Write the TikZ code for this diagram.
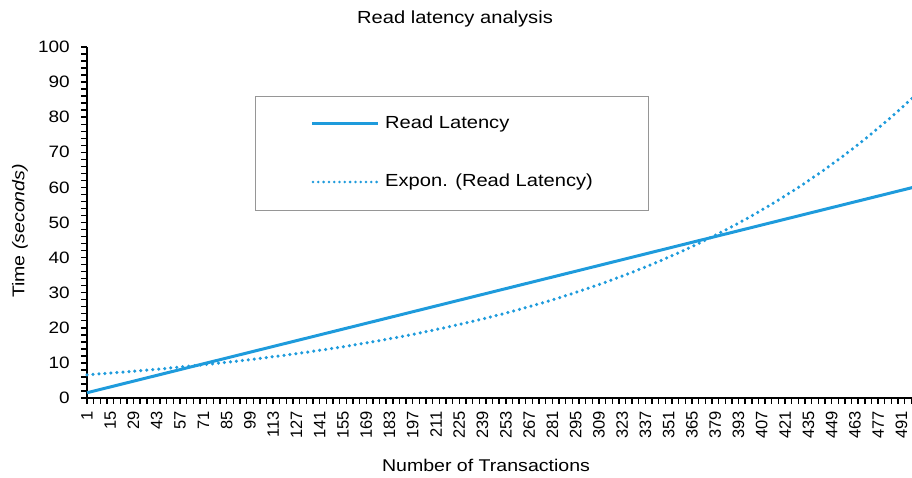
\documentclass[tikz,border=0pt]{standalone}
\usepackage{fontspec}
\setmainfont{Liberation Sans}
\newfontfamily\chartfont[FakeStretch=1.15]{Liberation Sans}
\usepackage{xcolor}
\usetikzlibrary{positioning}
\definecolor{latblue}{RGB}{30,155,220}
\definecolor{boxgray}{RGB}{150,150,150}

\tikzset{
  axisline/.style={line width=2pt,black},
  tickline/.style={line width=1.4pt,black},
  ylabel/.style={font=\chartfont\fontsize{16.5}{18}\selectfont,inner sep=0pt,anchor=east},
  xlabel/.style={font=\fontsize{16.5}{18}\selectfont,inner sep=0pt,anchor=east,rotate=90},
  legtext/.style={font=\chartfont\fontsize{17.5}{19}\selectfont,inner sep=0pt},
  latline/.style={latblue,line width=3pt},
  trendline/.style={latblue,line width=3.5pt,line cap=round,dash pattern=on 0pt off 6pt}
}

\begin{document}
\begin{tikzpicture}[x=1pt,y=1pt]
    \useasboundingbox (0,0) rectangle (912,477);
    \node[font=\chartfont\fontsize{17.5}{19}\selectfont,inner sep=0pt] (title) at (455,458) {Read latency analysis};

    % plot frame: one x unit per transaction, one y unit per second
    \begin{scope}[shift={(87,79)},x=1.662pt,y=3.51pt]
        \draw[axisline] (0,100) coordinate (ytop) -- (0,0) coordinate (origin) -- (497,0) coordinate (xend);
        \foreach \v in {0,2,...,100}
            \draw[tickline] (0,\v) -- ++(-6pt,0);
        \foreach \v in {0,10,...,100}
            \node[ylabel,xshift=-17pt] (ytick\v) at (0,\v) {\v};
        \foreach \t in {0,4,...,496}
            \draw[tickline] (\t,0) -- ++(0,-6pt);
        \foreach \t in {0,14,...,490} {
            \pgfmathtruncatemacro\c{\t+1}
            \node[xlabel] (xtick\c) at ([yshift=-13pt]\t,0) {\c};
        }
        % measured latency and its exponential fit
        \draw[trendline] plot[domain=0:497,samples=120] (\x,{6.6*exp(0.00516*\x)});
        \draw[latline] plot[domain=0:497,samples=2] (\x,{1.5+0.1177*\x});
    \end{scope}

    % legend
    \draw[boxgray,line width=1pt,fill=white] (255,266) rectangle (648,380);
    \coordinate (leg1a) at (312,353);
    \coordinate (leg1b) at (378,353);
    \coordinate (leg2a) at (313,295);
    \coordinate (leg2b) at (378,295);
    \draw[latline] (leg1a) -- (leg1b);
    \draw[trendline,line width=2.8pt,dash pattern=on 0pt off 5.3pt] (leg2a) -- (leg2b);
    \node[legtext,right=7pt of leg1b] (leg1) {Read Latency};
    \node[legtext,right=7pt of leg2b] (leg2) {Expon. (Read Latency)};

    % axis titles
    \node[font=\chartfont\fontsize{17}{19}\selectfont,inner sep=0pt] (xtitle) at (486,12) {Number of Transactions};
    \node[font=\chartfont\fontsize{17}{19}\selectfont,inner sep=0pt,rotate=90] (ytitle) at (20,246) {Time \textit{(seconds)}};
\end{tikzpicture}
\end{document}
